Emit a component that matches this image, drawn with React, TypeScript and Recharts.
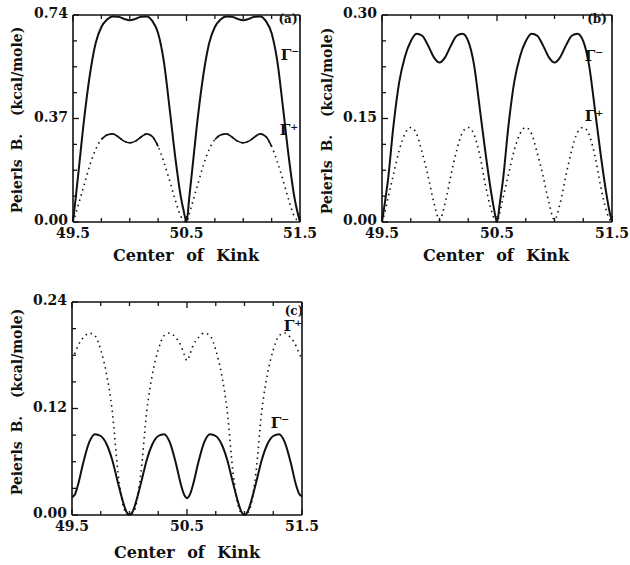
import React from 'react';
import { LineChart, Line, XAxis, YAxis } from 'recharts';

const FONT = '"DejaVu Serif", serif';
const INK = '#111';

// x = center of kink, panels (a) and (b) share the grid
const xAB = [
  49.5, 49.525, 49.55, 49.6, 49.65, 49.7, 49.75, 49.8, 49.85, 49.9, 49.95, 50.0, 50.05, 50.1, 50.15, 50.2, 50.25, 50.3, 50.35, 50.4, 50.45, 50.475,
  50.5, 50.525, 50.55, 50.6, 50.65, 50.7, 50.75, 50.8, 50.85, 50.9, 50.95, 51.0, 51.05, 51.1, 51.15, 51.2, 51.25, 51.3, 51.35, 51.4, 51.45, 51.475,
  51.5,
];

// (a) Gamma- (solid) and Gamma+ (dotted)
const gmA = [
  0, 0.09, 0.185, 0.375, 0.53, 0.64, 0.697, 0.724, 0.735, 0.734, 0.726, 0.721, 0.726, 0.734, 0.735, 0.718, 0.675, 0.575, 0.41, 0.235, 0.09, 0.04,
  0, 0.09, 0.185, 0.375, 0.53, 0.64, 0.697, 0.724, 0.735, 0.734, 0.726, 0.721, 0.726, 0.734, 0.735, 0.718, 0.675, 0.575, 0.41, 0.235, 0.09, 0.04,
  0,
];
const gpA = [
  0, 0.03, 0.065, 0.135, 0.205, 0.26, 0.295, 0.311, 0.315, 0.304, 0.289, 0.283, 0.289, 0.304, 0.315, 0.305, 0.27, 0.215, 0.15, 0.08, 0.02, 0.006,
  0, 0.03, 0.065, 0.135, 0.205, 0.26, 0.295, 0.311, 0.315, 0.304, 0.289, 0.283, 0.289, 0.304, 0.315, 0.305, 0.27, 0.215, 0.15, 0.08, 0.02, 0.006,
  0,
];

// (b)
const gmB = [
  0, 0.028, 0.058, 0.14, 0.203, 0.24, 0.262, 0.273, 0.27, 0.256, 0.239, 0.231, 0.239, 0.256, 0.27, 0.273, 0.262, 0.228, 0.165, 0.1, 0.042, 0.018,
  0, 0.028, 0.058, 0.14, 0.203, 0.24, 0.262, 0.273, 0.27, 0.256, 0.239, 0.231, 0.239, 0.256, 0.27, 0.273, 0.262, 0.228, 0.165, 0.1, 0.042, 0.018,
  0,
];
const gpB = [
  0, 0.014, 0.033, 0.069, 0.104, 0.128, 0.137, 0.128, 0.1, 0.067, 0.029, 0.003, 0.028, 0.068, 0.104, 0.13, 0.137, 0.127, 0.097, 0.053, 0.017, 0.005,
  0, 0.014, 0.033, 0.069, 0.104, 0.128, 0.137, 0.128, 0.1, 0.067, 0.029, 0.003, 0.028, 0.068, 0.104, 0.13, 0.137, 0.127, 0.097, 0.053, 0.017, 0.005,
  0,
];

// (c)
const xC = [
  49.5, 49.525, 49.55, 49.6, 49.65, 49.7, 49.75, 49.8, 49.85, 49.9, 49.95, 49.975, 50.0, 50.025, 50.05, 50.1, 50.15, 50.2, 50.25, 50.3, 50.35, 50.4, 50.45, 50.475,
  50.5, 50.525, 50.55, 50.6, 50.65, 50.7, 50.75, 50.8, 50.85, 50.9, 50.95, 50.975, 51.0, 51.025, 51.05, 51.1, 51.15, 51.2, 51.25, 51.3, 51.35, 51.4, 51.45, 51.475,
  51.5,
];
const gmC = [
  0.02, 0.023, 0.033, 0.06, 0.082, 0.091, 0.089, 0.08, 0.062, 0.036, 0.012, 0.003, 0, 0.003, 0.012, 0.036, 0.062, 0.08, 0.089, 0.091, 0.082, 0.06, 0.033, 0.023,
  0.019, 0.023, 0.033, 0.06, 0.082, 0.091, 0.089, 0.08, 0.062, 0.036, 0.012, 0.003, 0, 0.003, 0.012, 0.036, 0.062, 0.08, 0.089, 0.091, 0.082, 0.06, 0.033, 0.024,
  0.021,
];
const gpC = [
  0.176, 0.182, 0.19, 0.2, 0.205, 0.202, 0.186, 0.159, 0.117, 0.048, 0.008, 0.002, 0, 0.002, 0.008, 0.048, 0.117, 0.159, 0.186, 0.202, 0.205, 0.2, 0.19, 0.181,
  0.174, 0.181, 0.19, 0.2, 0.205, 0.202, 0.186, 0.159, 0.117, 0.048, 0.008, 0.002, 0, 0.002, 0.008, 0.048, 0.117, 0.159, 0.186, 0.202, 0.205, 0.2, 0.19, 0.182,
  0.177,
];

// ticks
const xTicks = [49.5, 49.75, 50.0, 50.25, 50.5, 50.75, 51.0, 51.25, 51.5];
const xMajors = [49.5, 50.5, 51.5];
const yTicksA = [0, 0.0925, 0.185, 0.2775, 0.37, 0.4625, 0.555, 0.6475, 0.74];
const yMajorsA = [0, 0.37, 0.74];
const yTicksB = [0, 0.0375, 0.075, 0.1125, 0.15, 0.1875, 0.225, 0.2625, 0.3];
const yMajorsB = [0, 0.15, 0.3];
const yTicksC = [0, 0.03, 0.06, 0.09, 0.12, 0.15, 0.18, 0.21, 0.24];
const yMajorsC = [0, 0.12, 0.24];

const inTop = (x: number) => (x >= 49.75 && x <= 50.25) || (x >= 50.75 && x <= 51.25);

const rowsAB = xAB.map((x, i) => ({
  x,
  gmA: gmA[i],
  gpA: gpA[i],
  gpTopA: inTop(x) ? gpA[i] : null,
  gmB: gmB[i],
  gpB: gpB[i],
}));
const rowsC = xC.map((x, i) => ({ x, gmC: gmC[i], gpC: gpC[i] }));

const isMajor = (v: number, majors: number[]) => majors.some((m) => Math.abs(m - v) < 1e-6);

function makeTick(side: string, majors: number[], digits: number, withText: boolean) {
  return (props: any) => {
    const { x, y, payload } = props;
    const v = payload.value;
    const major = isMajor(v, majors);
    const len = major ? 6 : 4;
    let x2 = x;
    let y2 = y;
    if (side === 'bottom') y2 = y - len;
    if (side === 'top') y2 = y + len;
    if (side === 'left') x2 = x + len;
    if (side === 'right') x2 = x - len;
    let label = null;
    if (withText && major) {
      label =
        side === 'bottom' ? (
          <text x={x} y={y + 16} textAnchor="middle" fontFamily={FONT} fontWeight="bold" fontSize={14} fill={INK}>
            {v.toFixed(digits)}
          </text>
        ) : (
          <text x={x - 5} y={y + 3} textAnchor="end" fontFamily={FONT} fontWeight="bold" fontSize={14} fill={INK}>
            {v.toFixed(digits)}
          </text>
        );
    }
    return (
      <g>
        <line x1={x} y1={y} x2={x2} y2={y2} stroke={INK} strokeWidth={1.3} />
        {label}
      </g>
    );
  };
}

const axisLine = { stroke: INK, strokeWidth: 1.6 };

interface PanelProps {
  left: number;
  top: number;
  width: number;
  height: number;
  plot: { x0: number; x1: number; y0: number; y1: number };
  rows: any[];
  minusKey: string;
  plusKey: string;
  plusTopKey?: string;
  yMax: number;
  yTicks: number[];
  yMajors: number[];
}

// plot gives the frame in page pixels; axes take 1px each
function Panel({ left, top, width, height, plot, rows, minusKey, plusKey, plusTopKey, yMax, yTicks, yMajors }: PanelProps) {
  const m = {
    top: plot.y0 - top - 1,
    bottom: top + height - plot.y1 - 1,
    left: plot.x0 - left - 1,
    right: left + width - plot.x1 - 1,
  };
  return (
    <div style={{ position: 'absolute', left, top }}>
      <LineChart width={width} height={height} data={rows} margin={m}>
        <XAxis
          type="number"
          dataKey="x"
          domain={[49.5, 51.5]}
          ticks={xTicks}
          interval={0}
          height={1}
          tickSize={0}
          tickMargin={0}
          tickLine={false}
          axisLine={axisLine}
          tick={makeTick('bottom', xMajors, 1, true)}
        />
        <XAxis
          xAxisId="top"
          orientation="top"
          type="number"
          dataKey="x"
          domain={[49.5, 51.5]}
          ticks={xTicks}
          interval={0}
          height={1}
          tickSize={0}
          tickMargin={0}
          tickLine={false}
          axisLine={axisLine}
          tick={makeTick('top', xMajors, 1, false)}
        />
        <YAxis
          type="number"
          domain={[0, yMax]}
          ticks={yTicks}
          interval={0}
          width={1}
          tickSize={0}
          tickMargin={0}
          tickLine={false}
          axisLine={axisLine}
          tick={makeTick('left', yMajors, 2, true)}
        />
        <YAxis
          yAxisId="right"
          orientation="right"
          type="number"
          domain={[0, yMax]}
          ticks={yTicks}
          interval={0}
          width={1}
          tickSize={0}
          tickMargin={0}
          tickLine={false}
          axisLine={axisLine}
          tick={makeTick('right', yMajors, 2, false)}
        />
        <Line
          type="monotone"
          dataKey={plusKey}
          stroke={INK}
          strokeWidth={1.6}
          strokeDasharray="1.5 4"
          dot={false}
          isAnimationActive={false}
        />
        {plusTopKey && (
          <Line
            type="monotone"
            dataKey={plusTopKey}
            stroke={INK}
            strokeWidth={1.6}
            dot={false}
            isAnimationActive={false}
          />
        )}
        <Line
          type="monotone"
          dataKey={minusKey}
          stroke={INK}
          strokeWidth={2}
          dot={false}
          isAnimationActive={false}
        />
      </LineChart>
    </div>
  );
}

function Txt({ cx, cy, size, rotate, children, spacing }: any) {
  return (
    <div
      style={{
        position: 'absolute',
        left: cx,
        top: cy,
        transform: `translate(-50%, -50%)${rotate ? ` rotate(${rotate}deg)` : ''}`,
        fontFamily: FONT,
        fontWeight: 'bold',
        fontSize: size,
        color: INK,
        whiteSpace: 'pre',
        lineHeight: 1,
        wordSpacing: spacing,
      }}
    >
      {children}
    </div>
  );
}

export default function App() {
  return (
    <div style={{ position: 'absolute', left: 0, top: 0, width: 630, height: 565, background: '#fff' }}>
      <Panel
        left={0}
        top={0}
        width={330}
        height={280}
        plot={{ x0: 73, x1: 300, y0: 15, y1: 222 }}
        rows={rowsAB}
        minusKey="gmA"
        plusKey="gpA"
        plusTopKey="gpTopA"
        yMax={0.74}
        yTicks={yTicksA}
        yMajors={yMajorsA}
      />
      <Panel
        left={315}
        top={0}
        width={315}
        height={280}
        plot={{ x0: 382, x1: 612, y0: 15, y1: 222 }}
        rows={rowsAB}
        minusKey="gmB"
        plusKey="gpB"
        yMax={0.3}
        yTicks={yTicksB}
        yMajors={yMajorsB}
      />
      <Panel
        left={0}
        top={285}
        width={330}
        height={280}
        plot={{ x0: 72, x1: 302, y0: 302, y1: 515 }}
        rows={rowsC}
        minusKey="gmC"
        plusKey="gpC"
        yMax={0.24}
        yTicks={yTicksC}
        yMajors={yMajorsC}
      />

      <Txt cx={186} cy={256} size={16} spacing={7}>Center of Kink</Txt>
      <Txt cx={496} cy={256} size={16} spacing={7}>Center of Kink</Txt>
      <Txt cx={187} cy={553} size={16} spacing={7}>Center of Kink</Txt>

      <Txt cx={17} cy={120} size={14} rotate={-90} spacing={4}>Peierls B.  (kcal/mole)</Txt>
      <Txt cx={327} cy={121} size={14} rotate={-90} spacing={4}>Peierls B.  (kcal/mole)</Txt>
      <Txt cx={17} cy={402} size={14} rotate={-90} spacing={4}>Peierls B.  (kcal/mole)</Txt>

      <Txt cx={288} cy={19} size={12}>(a)</Txt>
      <Txt cx={290} cy={55} size={15}>Γ⁻</Txt>
      <Txt cx={289} cy={130} size={15}>Γ⁺</Txt>

      <Txt cx={597} cy={19} size={12}>(b)</Txt>
      <Txt cx={594} cy={56} size={15}>Γ⁻</Txt>
      <Txt cx={594} cy={116} size={15}>Γ⁺</Txt>

      <Txt cx={294} cy={311} size={12}>(c)</Txt>
      <Txt cx={293} cy={326} size={15}>Γ⁺</Txt>
      <Txt cx={280} cy={423} size={15}>Γ⁻</Txt>
    </div>
  );
}
